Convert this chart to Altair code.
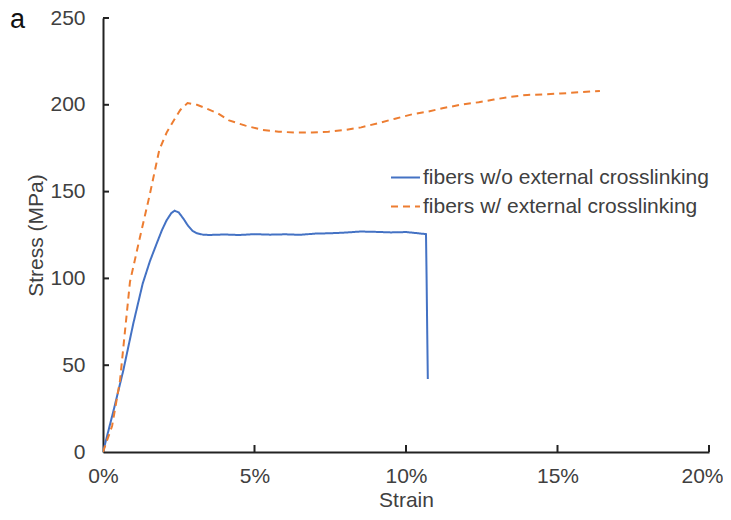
import altair as alt
import pandas as pd

# Series
s1_name = "fibers w/o external crosslinking"
s1_strain = [0, 0.0035, 0.0067, 0.0100, 0.0131, 0.0155, 0.0177, 0.0195, 0.0210, 0.0225, 0.0236, 0.0250,
             0.0265, 0.0280, 0.0295, 0.0310, 0.0330, 0.0350, 0.0400, 0.0450, 0.0500, 0.0550, 0.0600,
             0.0650, 0.0700, 0.0750, 0.0800, 0.0850, 0.0900, 0.0950, 0.1000, 0.1040, 0.1066, 0.1068, 0.1070, 0.1072]
s1_stress = [0, 24, 47, 74, 97, 110, 120, 128, 133.5, 137.5, 139, 138, 134.5, 130.5, 127.5, 126, 125.2, 125,
             125.3, 125, 125.5, 125.2, 125.4, 125.1, 125.8, 126, 126.4, 127, 126.8, 126.5, 126.7, 126, 125.5,
             100, 70, 42]

s2_name = "fibers w/ external crosslinking"
s2_strain = [0, 0.0030, 0.0056, 0.0089, 0.0121, 0.0154, 0.0187, 0.0193, 0.0210, 0.0230, 0.0255, 0.0279,
             0.0310, 0.0340, 0.0380, 0.0416, 0.0470, 0.0525, 0.0580, 0.0636, 0.0690, 0.0744, 0.0800,
             0.0852, 0.0910, 0.0964, 0.1020, 0.1070, 0.1120, 0.1180, 0.1240, 0.1290, 0.1340, 0.1400,
             0.1450, 0.1510, 0.1570, 0.1640]
s2_stress = [0, 15, 41, 98, 123, 148, 175, 177, 184, 190, 197, 201, 200, 198, 195, 191, 188, 185.6, 184.5,
             184, 184, 184.5, 185.5, 187, 189.5, 192, 194.5, 196, 198, 200, 201.5, 203, 204.5, 205.7,
             206, 206.5, 207.2, 208]

x_ticks = [0, 0.05, 0.10, 0.15, 0.20]
y_ticks = [0, 50, 100, 150, 200, 250]

W, H = 606, 434
FONT = "Liberation Sans"
TXT = "#404040"
FS = 21

df = pd.concat([
    pd.DataFrame({"strain": s1_strain, "stress": s1_stress, "series": s1_name, "order": range(len(s1_strain))}),
    pd.DataFrame({"strain": s2_strain, "stress": s2_stress, "series": s2_name, "order": range(len(s2_strain))}),
])

xscale = alt.Scale(domain=[0, 0.2], nice=False, zero=True)
yscale = alt.Scale(domain=[0, 250], nice=False)

lines = alt.Chart(df).mark_line(strokeWidth=2, clip=True).encode(
    x=alt.X("strain:Q", scale=xscale,
            axis=alt.Axis(values=x_ticks, format=".0%", title="Strain", grid=False, tickSize=0,
                          labelFlush=False, labelPadding=13, titlePadding=3,
                          labelOffset={"condition": {"test": "datum.value >= 0.2", "value": -7}, "value": 0},
                          domainColor="#222222", domainWidth=2)),
    y=alt.Y("stress:Q", scale=yscale,
            axis=alt.Axis(values=y_ticks, title="Stress (MPa)", grid=False, tickSize=0,
                          labelFlush=False, labelPadding=18, titlePadding=3,
                          domainColor="#222222", domainWidth=2)),
    color=alt.Color("series:N",
                    scale=alt.Scale(domain=[s1_name, s2_name], range=["#4472C4", "#ED7D31"]),
                    legend=alt.Legend(title=None, orient="none", legendX=287, legendY=144,
                                      symbolType="stroke", symbolSize=840, symbolStrokeWidth=2,
                                      labelFontSize=FS, labelColor=TXT, labelFont=FONT, labelLimit=0,
                                      rowPadding=3, labelOffset=2)),
    strokeDash=alt.StrokeDash("series:N",
                              scale=alt.Scale(domain=[s1_name, s2_name], range=[[1, 0], [7, 5]]),
                              legend=None),
    order="order:Q",
)

ytick_df = pd.DataFrame({"v": y_ticks[1:]})
xtick_df = pd.DataFrame({"v": x_ticks[1:]})

yticks = alt.Chart(ytick_df).mark_rule(color="#222222", strokeWidth=2).encode(
    y=alt.Y("v:Q", scale=yscale), x=alt.value(0), x2=alt.value(6))
xticks = alt.Chart(xtick_df).mark_rule(color="#222222", strokeWidth=2).encode(
    x=alt.X("v:Q", scale=xscale), y=alt.value(H), y2=alt.value(H - 7))

panel_label = alt.Chart(pd.DataFrame({"t": ["a"]})).mark_text(
    fontSize=27, font=FONT, color="#111111", align="left", baseline="alphabetic").encode(
    text="t:N", x=alt.value(-93), y=alt.value(10))

chart = alt.layer(lines, yticks, xticks, panel_label).properties(
    width=W, height=H,
    autosize=alt.AutoSizeParams(type="none"),
    padding={"left": 95, "top": 10, "right": 14, "bottom": 60},
).configure_view(stroke=None).configure_axis(
    labelFont=FONT, titleFont=FONT, labelFontSize=FS, titleFontSize=FS,
    labelColor=TXT, titleColor=TXT, titleFontWeight="normal"
)

chart.save("out.html", embed_options={"renderer": "svg", "actions": False})
